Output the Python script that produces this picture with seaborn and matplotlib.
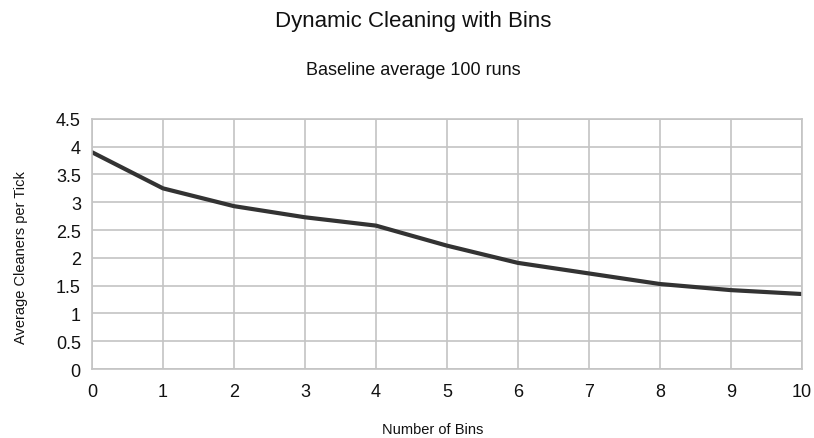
import matplotlib
matplotlib.use("Agg")
import matplotlib.pyplot as plt
import seaborn as sns
import pandas as pd

bins = [0, 1, 2, 3, 4, 5, 6, 7, 8, 9, 10]
cleaners = [3.90, 3.25, 2.93, 2.73, 2.58, 2.22, 1.91, 1.72, 1.53, 1.42, 1.35]
y_ticks = [0, 0.5, 1, 1.5, 2, 2.5, 3, 3.5, 4, 4.5]
y_tick_labels = ["0", "0.5", "1", "1.5", "2", "2.5", "3", "3.5", "4", "4.5"]

df = pd.DataFrame({"bins": bins, "cleaners": cleaners})

sns.set_style("white")
plt.rcParams["font.family"] = ["Liberation Sans", "DejaVu Sans"]

fig = plt.figure(figsize=(8.14, 4.39), dpi=100)
ax = fig.add_axes([0.113, 0.157, 0.872, 0.570])

sns.lineplot(data=df, x="bins", y="cleaners", ax=ax, color="#333333", linewidth=3.0)

ax.set_xlim(0, 10)
ax.set_ylim(0, 4.5)
ax.set_xticks(bins)
ax.set_yticks(y_ticks)
ax.set_yticklabels(y_tick_labels)
ax.grid(True, color="#c4c4c4", linewidth=1.2)
ax.set_axisbelow(True)
for side in ["top", "right", "left", "bottom"]:
    ax.spines[side].set_color("#c4c4c4")
    ax.spines[side].set_linewidth(1.2)
ax.tick_params(axis="both", length=5, width=1.2, color="#c4c4c4", labelsize=13, labelcolor="#111111", pad=3)
ax.tick_params(axis="x", pad=5)

ax.set_xlabel("Number of Bins", fontsize=10.5, color="#111111", va="center")
ax.xaxis.set_label_coords(0.48, -0.24)
ax.set_ylabel("Average Cleaners per Tick", fontsize=10.5, color="#111111")
ax.yaxis.set_label_coords(-0.09, 0.45)

fig.text(0.508, 0.95, "Dynamic Cleaning with Bins", ha="center", va="center", fontsize=16, color="#111111")
fig.text(0.508, 0.84, "Baseline average 100 runs", ha="center", va="center", fontsize=13, color="#111111")

fig.savefig("out.png", dpi=100)
